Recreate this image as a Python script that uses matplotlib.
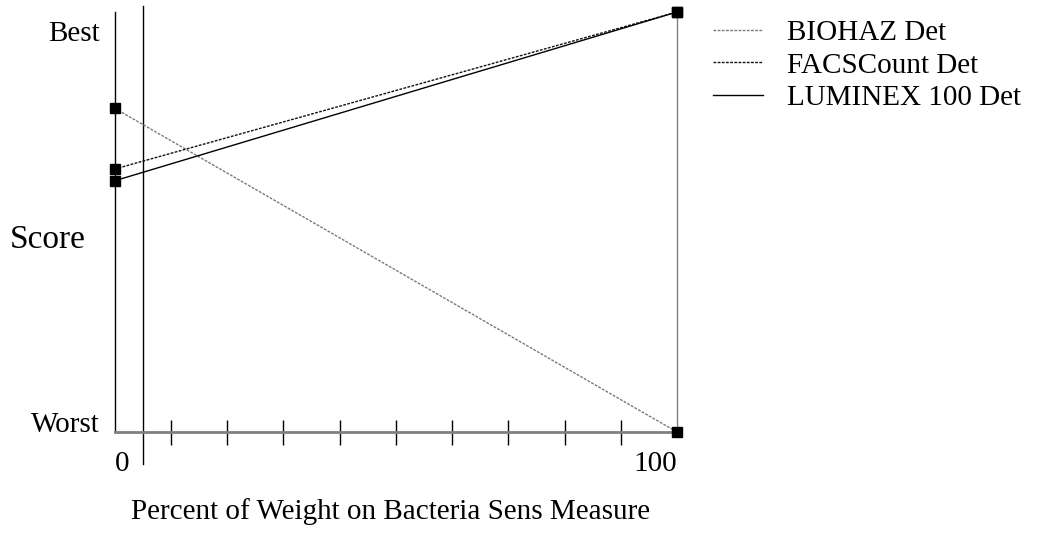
import matplotlib
matplotlib.use('Agg')
import matplotlib.pyplot as plt

plt.rcParams['font.family'] = ['Liberation Serif', 'DejaVu Serif']

# weight on bacteria sensitivity measure (percent)
weights = [0, 100]
current_weight = 5
series_names = ['BIOHAZ Det', 'FACSCount Det', 'LUMINEX 100 Det']
# score at each end of the weight range (0 = worst, 1 = best)
scores = {
    'BIOHAZ Det': [0.771, 0.0],
    'FACSCount Det': [0.626, 1.0],
    'LUMINEX 100 Det': [0.598, 1.0],
}
line_styles = {
    'BIOHAZ Det': dict(color='#7a7a7a', linestyle=(0, (2, 1)), linewidth=1.0),
    'FACSCount Det': dict(color='#111111', linestyle=(0, (2, 1)), linewidth=1.0),
    'LUMINEX 100 Det': dict(color='black', linestyle='-', linewidth=1.0),
}
x_ticks = list(range(10, 100, 10))

W, H = 1037, 536
fig = plt.figure(figsize=(W / 100, H / 100), dpi=100)
ax = fig.add_axes([114.5 / W, (H - 432) / H, (677 - 114.5) / W, 420 / H])

for name in series_names:
    ax.plot(weights, scores[name], label=name, clip_on=False, zorder=3,
            **line_styles[name])
    ax.plot(weights, scores[name], linestyle='none', marker='s',
            markersize=6.5, color='black', clip_on=False, zorder=4)

ax.set_xlim(0, 100)
ax.set_ylim(0, 1)

# frame: black left, gray right, thick gray bottom
ax.spines['top'].set_visible(False)
ax.spines['left'].set_color('black')
ax.spines['left'].set_linewidth(1.0)
ax.spines['right'].set_color('#808080')
ax.spines['right'].set_linewidth(1.0)
ax.spines['bottom'].set_color('#808080')
ax.spines['bottom'].set_linewidth(2.0)

# current weight marker line
ax.axvline(current_weight, ymin=-0.076, ymax=1.014, color='black',
           linewidth=1.0, clip_on=False)

ax.set_xticks(x_ticks)
ax.set_xticklabels([])
ax.tick_params(axis='x', direction='inout', length=18, width=1.0, color='black')
ax.text(0, -0.077, '0', ha='left', va='center', fontsize=21,
        transform=ax.get_xaxis_transform())
ax.text(100, -0.077, '100', ha='right', va='center', fontsize=21,
        transform=ax.get_xaxis_transform())

ax.set_yticks([0.024, 0.955])
ax.set_yticklabels(['Worst', 'Best'], fontsize=21)
ax.tick_params(axis='y', length=0, pad=10.4)

ax.set_ylabel('Score', rotation=0, fontsize=24, ha='left', va='center')
ax.yaxis.set_label_coords(-0.186, 0.457)
ax.set_xlabel('Percent of Weight on Bacteria Sens Measure', fontsize=21,
              va='center')
ax.xaxis.set_label_coords(0.49, -0.19)

ax.legend(loc='upper left', bbox_to_anchor=(713 / W, (H - 20) / H),
          bbox_transform=fig.transFigure, frameon=False, fontsize=21,
          handlelength=1.72, handletextpad=0.83, labelspacing=0.2,
          borderpad=0, borderaxespad=0)

fig.savefig('out.png', dpi=100)
